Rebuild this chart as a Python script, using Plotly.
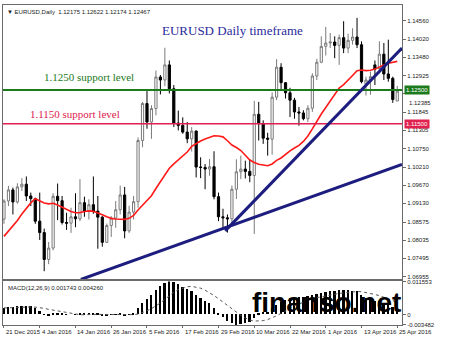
import plotly.graph_objects as go
import pandas as pd

# ---------------- data ----------------
dates = ["21 Dec 2015","22 Dec 2015","23 Dec 2015","24 Dec 2015","28 Dec 2015","29 Dec 2015","30 Dec 2015","31 Dec 2015",
         "4 Jan 2016","5 Jan 2016","6 Jan 2016","7 Jan 2016","8 Jan 2016","11 Jan 2016","12 Jan 2016","13 Jan 2016",
         "14 Jan 2016","15 Jan 2016","18 Jan 2016","19 Jan 2016","20 Jan 2016","21 Jan 2016","22 Jan 2016","25 Jan 2016",
         "26 Jan 2016","27 Jan 2016","28 Jan 2016","29 Jan 2016","1 Feb 2016","2 Feb 2016","3 Feb 2016","4 Feb 2016",
         "5 Feb 2016","8 Feb 2016","9 Feb 2016","10 Feb 2016","11 Feb 2016","12 Feb 2016","15 Feb 2016","16 Feb 2016",
         "17 Feb 2016","18 Feb 2016","19 Feb 2016","22 Feb 2016","23 Feb 2016","24 Feb 2016","25 Feb 2016","26 Feb 2016",
         "29 Feb 2016","1 Mar 2016","2 Mar 2016","3 Mar 2016","4 Mar 2016","7 Mar 2016","8 Mar 2016","9 Mar 2016",
         "10 Mar 2016","11 Mar 2016","14 Mar 2016","15 Mar 2016","16 Mar 2016","17 Mar 2016","18 Mar 2016","21 Mar 2016",
         "22 Mar 2016","23 Mar 2016","24 Mar 2016","25 Mar 2016","28 Mar 2016","29 Mar 2016","30 Mar 2016","31 Mar 2016",
         "1 Apr 2016","4 Apr 2016","5 Apr 2016","6 Apr 2016","7 Apr 2016","8 Apr 2016","11 Apr 2016","12 Apr 2016",
         "13 Apr 2016","14 Apr 2016","15 Apr 2016","18 Apr 2016","19 Apr 2016","20 Apr 2016","21 Apr 2016","22 Apr 2016",
         "25 Apr 2016"]

opens = [1.0866,1.0920,1.0953,1.0917,1.0962,1.0970,1.0935,1.0927,
         1.0860,1.0826,1.0746,1.0780,1.0934,1.0921,1.0856,1.0854,
         1.0873,1.0867,1.0915,1.0889,1.0909,1.0890,1.0872,1.0797,
         1.0847,1.0869,1.0894,1.0938,1.0831,1.0887,1.0918,1.1100,
         1.1210,1.1155,1.1195,1.1289,1.1280,1.1325,1.1254,1.1152,
         1.1145,1.1125,1.1105,1.1128,1.1021,1.1020,1.1015,1.1022,
         1.0933,1.0873,1.0870,1.0867,1.0955,1.1007,1.1015,1.1008,
         1.0996,1.1178,1.1150,1.1107,1.1104,1.1229,1.1318,1.1272,
         1.1242,1.1220,1.1185,1.1182,1.1165,1.1196,1.1292,1.1333,
         1.1380,1.1390,1.1393,1.1383,1.1406,1.1375,1.1398,1.1408,
         1.1385,1.1268,1.1278,1.1325,1.1314,1.1357,1.1298,1.1285,
         1.12175]
highs = [1.0925,1.0965,1.0960,1.0973,1.0988,1.0993,1.0945,1.0930,
         1.0945,1.0838,1.0798,1.0943,1.0972,1.0935,1.0885,1.0900,
         1.0943,1.0985,1.0933,1.0925,1.0993,1.0935,1.0875,1.0853,
         1.0875,1.0920,1.0966,1.0962,1.0906,1.0935,1.1109,1.1215,
         1.1247,1.1205,1.1308,1.1295,1.1376,1.1338,1.1265,1.1189,
         1.1169,1.1155,1.1140,1.1130,1.1050,1.1030,1.1045,1.1068,
         1.0945,1.0897,1.0880,1.0966,1.1044,1.1055,1.1040,1.1045,
         1.1218,1.1215,1.1160,1.1123,1.1243,1.1342,1.1330,1.1273,
         1.1257,1.1227,1.1200,1.1190,1.1205,1.1300,1.1343,1.1410,
         1.1438,1.1420,1.1410,1.1415,1.1455,1.1418,1.1434,1.1465,
         1.1395,1.1290,1.1305,1.1338,1.1395,1.1390,1.1400,1.1290,
         1.12622]
lows = [1.0852,1.0905,1.0880,1.0912,1.0950,1.0920,1.0905,1.0852,
        1.0804,1.0711,1.0732,1.0773,1.0863,1.0850,1.0834,1.0825,
        1.0842,1.0860,1.0873,1.0865,1.0882,1.0778,1.0784,1.0795,
        1.0813,1.0840,1.0880,1.0809,1.0825,1.0865,1.0900,1.1080,
        1.1135,1.1105,1.1175,1.1237,1.1262,1.1240,1.1140,1.1130,
        1.1120,1.1092,1.1067,1.0990,1.0988,1.0955,1.0995,1.0925,
        1.0860,1.0840,1.0826,1.0845,1.0926,1.0985,1.0987,1.0976,
        1.0822,1.1100,1.1090,1.1055,1.1058,1.1220,1.1249,1.1225,
        1.1170,1.1165,1.1144,1.1160,1.1155,1.1185,1.1280,1.1330,
        1.1353,1.1375,1.1345,1.1325,1.1360,1.1360,1.1385,1.1375,
        1.1270,1.1234,1.1236,1.1265,1.1300,1.1280,1.1275,1.1212,
        1.12174]
closes = [1.0920,1.0953,1.0917,1.0962,1.0970,1.0935,1.0927,1.0860,
          1.0826,1.0746,1.0780,1.0934,1.0921,1.0856,1.0854,1.0873,
          1.0867,1.0915,1.0889,1.0909,1.0890,1.0872,1.0797,1.0847,
          1.0869,1.0894,1.0938,1.0831,1.0887,1.0918,1.1100,1.1210,
          1.1155,1.1195,1.1289,1.1280,1.1325,1.1254,1.1152,1.1145,
          1.1125,1.1105,1.1128,1.1021,1.1020,1.1015,1.1022,1.0933,
          1.0873,1.0870,1.0867,1.0955,1.1007,1.1015,1.1008,1.0996,
          1.1178,1.1150,1.1107,1.1104,1.1229,1.1318,1.1272,1.1242,
          1.1220,1.1185,1.1182,1.1165,1.1196,1.1292,1.1333,1.1380,
          1.1390,1.1393,1.1383,1.1406,1.1375,1.1398,1.1408,1.1385,
          1.1275,1.1280,1.1290,1.1312,1.1357,1.1298,1.1285,1.1222,
          1.12467]

# closes before the visible window (used only to warm up the 20-day MA)
prior_closes = [1.0635,1.0645,1.0625,1.0610,1.0593,1.0565,1.0632,1.0613,1.0942,1.0880,
                1.0835,1.0895,1.1025,1.0993,1.0990,1.0995,1.0936,1.0908,1.0826,1.0866]

macd_main = [0.0024,0.0026,0.0027,0.0028,0.0030,0.0029,0.0028,0.0022,0.0013,0.0001,
             -0.0006,0.0002,0.0005,0.0002,-0.0001,0.0000,-0.0001,0.0003,0.0003,0.0004,
             0.0004,0.0003,-0.0002,-0.0003,-0.0001,0.0001,0.0004,-0.0002,0.0001,0.0006,
             0.0022,0.0040,0.0055,0.0068,0.0085,0.0098,0.0110,0.011553,0.0112,0.0104,
             0.0096,0.0088,0.0080,0.0068,0.0058,0.0048,0.0038,0.0022,0.0006,-0.0010,
             -0.0022,-0.0030,-0.003482,-0.0033,-0.0030,-0.0027,-0.0012,
             0.0003,0.0007,0.0010,0.0021,0.0033,0.0043,0.0051,0.0056,0.0059,0.0061,
             0.0062,0.0064,0.0068,0.0072,0.0076,0.0079,0.0081,0.0082,0.0083,0.0083,
             0.0083,0.0082,0.0080,0.0068,0.0058,0.0052,0.0047,0.0045,0.0038,0.0033,
             0.0025,0.001743]

price_ticks = [1.14560,1.14020,1.13480,1.12925,1.12385,1.11845,1.11305,1.10750,
               1.10210,1.09670,1.09130,1.08575,1.08035,1.07495,1.06955]
macd_ticks = [0.011553, 0.0, -0.003482]
macd_tick_text = ["0.011553", "0", "-0.003482"]
date_tick_step = 8

support_levels = [1.1250, 1.1150]
support_texts = ["1.1250 support level", "1.1150 support level"]
support_colors = ["#1b7a1b", "#e0204e"]

# trend lines: (bar index, price) anchors
trend_steep_x = [49.5, 89.06]
trend_steep_y = [1.0831, 1.1375]
trend_flat_x = [17.2, 89.06]
trend_flat_y = [1.06866, 1.10285]

# ---------------- derived ----------------
idx = list(range(len(closes)))
all_closes = pd.Series(prior_closes + closes)
ma20 = all_closes.rolling(20).mean().iloc[len(prior_closes):].tolist()
signal = pd.Series(macd_main).rolling(9, min_periods=1).mean().tolist()

# ---------------- figure ----------------
XR = [-0.22, 89.06]
YR = [1.06866, 1.15032]
MAIN_DOM = [0.1424, 1.0]
MACD_DOM = [0.0, 0.1362]
FONT = "Liberation Sans"
AX = "#6a6a6a"
TXT = "#222222"

fig = go.Figure()

fig.add_trace(go.Candlestick(
    x=idx, open=opens, high=highs, low=lows, close=closes,
    increasing=dict(line=dict(color="#7a7a7a", width=1), fillcolor="white"),
    decreasing=dict(line=dict(color="black", width=1), fillcolor="black"),
    whiskerwidth=0, xaxis="x", yaxis="y", showlegend=False, hoverinfo="skip"))

fig.add_trace(go.Scatter(x=idx, y=ma20, mode="lines",
                         line=dict(color="#ff1a1a", width=1.6),
                         xaxis="x", yaxis="y", showlegend=False, hoverinfo="skip"))

for lvl, col, w in zip(support_levels, support_colors, [2, 1.5]):
    fig.add_trace(go.Scatter(x=XR, y=[lvl, lvl], mode="lines",
                             line=dict(color=col, width=w),
                             xaxis="x", yaxis="y", showlegend=False, hoverinfo="skip"))

for tx, ty in [(trend_steep_x, trend_steep_y), (trend_flat_x, trend_flat_y)]:
    fig.add_trace(go.Scatter(x=tx, y=ty, mode="lines",
                             line=dict(color="#1d1d80", width=3),
                             xaxis="x", yaxis="y", showlegend=False, hoverinfo="skip"))

fig.add_trace(go.Bar(x=idx, y=macd_main, width=0.4, marker=dict(color="black", line=dict(width=0)),
                     xaxis="x2", yaxis="y2", showlegend=False, hoverinfo="skip"))
fig.add_trace(go.Scatter(x=idx, y=signal, mode="lines",
                         line=dict(color="#555555", width=1, dash="dot"),
                         xaxis="x2", yaxis="y2", showlegend=False, hoverinfo="skip"))

axis_common = dict(showgrid=False, zeroline=False, showline=True, mirror=True,
                   linecolor=AX, linewidth=1)

# tick label hidden under the green price box is drawn just below it instead
hidden_tick = 1.12385
price_ticktext = ["" if v == hidden_tick else f"{v:.5f}" for v in price_ticks]

fig.update_layout(
    width=450, height=337,
    margin=dict(l=2, r=48, t=2, b=12),
    paper_bgcolor="white", plot_bgcolor="white",
    xaxis=dict(domain=[0, 1], range=XR, anchor="y", showticklabels=False,
               rangeslider=dict(visible=False), **axis_common),
    yaxis=dict(domain=MAIN_DOM, range=YR, side="right", anchor="x",
               tickvals=price_ticks, ticktext=price_ticktext,
               ticks="outside", ticklen=3, tickcolor=AX,
               tickfont=dict(family=FONT, size=6, color=TXT), **axis_common),
    xaxis2=dict(domain=[0, 1], range=XR, anchor="y2", matches="x",
                tickvals=idx[::date_tick_step], ticktext=[""] * len(idx[::date_tick_step]),
                ticks="outside", ticklen=2, tickcolor=AX, **axis_common),
    yaxis2=dict(domain=MACD_DOM, range=[-0.0035, 0.01158], side="right", anchor="x2",
                tickvals=macd_ticks, ticktext=macd_tick_text,
                ticks="outside", ticklen=3, tickcolor=AX,
                tickfont=dict(family=FONT, size=6, color=TXT), **axis_common),
    bargap=0,
)

ann = []
# date labels
for i in idx[::date_tick_step]:
    ann.append(dict(x=i, xref="x2", y=-0.005, yref="paper", text=dates[i],
                    xanchor="left", yanchor="top", showarrow=False,
                    font=dict(family=FONT, size=6, color=TXT)))
# header texts
ann.append(dict(x=0.005, xref="paper", y=0.995, yref="paper",
                text=f"▼ EURUSD,Daily  {opens[-1]:.5f} {highs[-1]:.5f} {lows[-1]:.5f} {closes[-1]:.5f}",
                xanchor="left", yanchor="top", showarrow=False,
                font=dict(family=FONT, size=6, color=TXT)))
ann.append(dict(x=0.008, xref="paper", y=0.132, yref="paper",
                text=f"MACD(12,26,9) {macd_main[-1]:.6f} {signal[-1]:.6f}",
                xanchor="left", yanchor="top", showarrow=False,
                font=dict(family=FONT, size=6, color=TXT)))
# title
ann.append(dict(x=0.575, xref="paper", y=0.92, yref="paper", text="EURUSD Daily timeframe",
                xanchor="center", yanchor="middle", showarrow=False,
                font=dict(family="Liberation Serif", size=13, color="#2a2a9c")))
# support texts
ann.append(dict(x=0.215, xref="paper", y=1.1288, yref="y", text=support_texts[0],
                xanchor="center", yanchor="middle", showarrow=False,
                font=dict(family="Liberation Serif", size=11, color=support_colors[0])))
ann.append(dict(x=0.18, xref="paper", y=1.1179, yref="y", text=support_texts[1],
                xanchor="center", yanchor="middle", showarrow=False,
                font=dict(family="Liberation Serif", size=11, color=support_colors[1])))
# right-axis price boxes
for lvl, col in zip(support_levels, support_colors):
    ann.append(dict(x=1.004, xref="paper", y=lvl, yref="y", text=f"{lvl:.5f}",
                    xanchor="left", yanchor="middle", showarrow=False, bgcolor=col, borderpad=1,
                    font=dict(family=FONT, size=6, color="white")))
ann.append(dict(x=1.012, xref="paper", y=hidden_tick, yref="y", yshift=-4, text=f"{hidden_tick:.5f}",
                xanchor="left", yanchor="top", showarrow=False,
                font=dict(family=FONT, size=6, color=TXT)))
# watermark (ends just left of the MACD axis labels)
ann.append(dict(x=1.0, xref="paper", y=0.07, yref="paper", text="<b>finanso.net</b>",
                xanchor="right", yanchor="middle", showarrow=False, borderpad=0,
                font=dict(family=FONT, size=28, color="black")))
fig.update_layout(annotations=ann)

fig.write_html("out.html", config={"displayModeBar": False})
